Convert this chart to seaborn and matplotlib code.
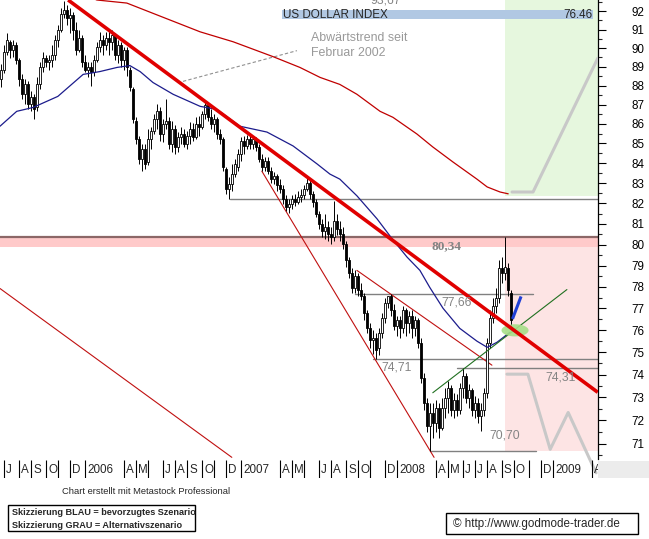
import pandas as pd
import numpy as np
import matplotlib
matplotlib.use("Agg")
import matplotlib.pyplot as plt
import seaborn as sns
from matplotlib import font_manager
from matplotlib.path import Path
from matplotlib.patches import Rectangle
from matplotlib.ticker import FixedLocator, NullFormatter, FuncFormatter

# --- weekly candles, US Dollar Index (first bar week of 2005-06-24) ---
first_week = "2005-06-24"
opens = [88.32, 88.85, 89.80, 90.34, 89.91, 90.18, 89.38, 88.32, 87.54, 88.06,
         87.01, 87.38, 86.85, 88.06, 88.96, 89.49, 89.27, 89.38, 89.65, 90.45,
         90.99, 91.86, 92.08, 91.64, 91.81, 90.99, 89.91, 90.56, 89.27, 88.85,
         88.96, 88.74, 89.38, 90.07, 90.45, 90.18, 90.56, 90.34, 90.72, 89.65,
         90.18, 89.38, 89.91, 88.85, 87.80, 86.14, 85.22, 84.21, 84.71, 84.06,
         85.22, 85.63, 86.24, 86.65, 85.48, 85.99, 86.14, 84.97, 85.73, 84.82,
         85.32, 85.48, 84.97, 85.37, 85.73, 85.32, 85.99, 85.83, 86.50, 86.96,
         86.34, 85.99, 86.24, 85.48, 85.22, 83.70, 82.71, 82.96, 83.45, 83.80,
         84.46, 85.12, 84.87, 85.22, 84.97, 85.22, 84.82, 84.21, 83.80, 84.11,
         83.60, 83.20, 83.35, 82.91, 82.71, 82.22, 81.83, 81.98, 82.22, 82.07,
         82.32, 82.42, 82.71, 83.00, 82.47, 82.07, 81.49, 81.00, 80.66, 80.86,
         80.52, 80.38, 81.14, 80.76, 80.52, 80.04, 79.24, 78.63, 77.92, 78.49,
         77.83, 77.55, 76.77, 76.08, 75.54, 75.63, 75.18, 75.86, 76.54, 77.23,
         77.55, 76.91, 76.17, 76.45, 76.08, 76.91, 76.31, 76.63, 76.08, 76.45,
         75.41, 73.85, 72.76, 71.77, 72.33, 71.90, 72.54, 71.69, 72.54, 72.98,
         73.41, 72.45, 72.89, 72.45, 73.41, 73.94, 72.98, 73.32, 72.45, 72.76,
         72.20, 72.45, 73.20, 75.41, 76.54, 77.09, 77.46, 78.86, 78.63, 78.86,
         77.69]
highs = [89.12, 90.18, 90.83, 90.45, 90.45, 90.34, 89.49, 88.59, 88.32, 88.22,
         87.69, 87.54, 88.43, 89.27, 89.80, 89.65, 89.65, 90.18, 90.72, 91.26,
         92.19, 92.58, 92.36, 92.19, 91.97, 91.42, 90.99, 90.72, 89.65, 89.27,
         89.27, 89.65, 90.34, 90.88, 90.72, 90.88, 90.99, 90.99, 90.83, 90.45,
         90.34, 90.07, 90.07, 88.96, 87.90, 86.34, 85.37, 84.97, 84.97, 85.73,
         85.83, 86.50, 87.01, 86.85, 86.24, 87.27, 86.34, 86.14, 85.93, 85.58,
         85.83, 85.73, 85.63, 86.09, 86.04, 86.34, 86.39, 86.65, 87.17, 87.06,
         86.75, 86.50, 86.34, 85.73, 85.32, 83.80, 83.30, 83.96, 84.21, 84.71,
         85.32, 85.37, 85.42, 85.48, 85.37, 85.32, 84.97, 84.46, 84.31, 84.31,
         83.80, 83.55, 83.45, 83.20, 82.91, 82.42, 82.22, 82.42, 82.47, 82.61,
         82.71, 82.91, 83.35, 83.20, 82.61, 82.22, 81.63, 81.24, 81.49, 81.14,
         80.86, 82.12, 81.49, 81.14, 80.86, 80.18, 79.42, 78.86, 78.77, 78.67,
         78.16, 77.69, 76.91, 76.31, 75.99, 75.86, 76.08, 76.77, 77.46, 77.58,
         77.66, 77.18, 76.63, 76.63, 77.09, 77.00, 76.86, 76.91, 76.63, 76.54,
         75.63, 74.07, 72.98, 72.76, 72.76, 72.89, 72.76, 72.98, 73.41, 73.72,
         73.54, 73.20, 73.15, 73.63, 74.31, 74.07, 73.59, 73.41, 73.07, 72.98,
         72.76, 73.41, 75.63, 76.91, 77.46, 77.92, 79.24, 79.42, 80.34, 79.10,
         77.83]
lows = [87.90, 88.69, 89.65, 89.49, 89.54, 89.12, 87.96, 87.27, 87.01, 86.75,
        86.65, 86.24, 86.65, 87.80, 88.74, 88.96, 88.85, 88.96, 89.38, 90.07,
        90.88, 91.64, 91.26, 90.83, 90.45, 89.65, 89.80, 89.01, 88.74, 88.43,
        87.96, 88.48, 89.27, 89.80, 89.65, 89.91, 89.65, 89.91, 89.38, 89.22,
        89.01, 88.85, 88.48, 87.70, 86.04, 84.97, 83.96, 83.60, 83.70, 83.90,
        84.71, 85.48, 85.73, 85.12, 85.07, 85.73, 84.71, 84.56, 84.46, 84.56,
        84.97, 84.82, 84.71, 84.97, 85.12, 85.22, 85.37, 85.73, 86.24, 86.14,
        85.73, 85.58, 85.22, 84.97, 83.60, 82.47, 82.22, 82.61, 83.30, 83.60,
        84.11, 84.46, 84.71, 84.71, 84.71, 84.61, 84.06, 83.60, 83.60, 83.45,
        83.00, 82.96, 82.61, 82.51, 81.98, 81.63, 81.53, 81.73, 81.88, 81.98,
        82.07, 82.22, 82.61, 82.22, 81.83, 81.34, 80.76, 80.38, 80.28, 80.18,
        80.04, 80.18, 80.47, 80.18, 79.80, 78.95, 78.39, 77.69, 77.69, 77.55,
        77.37, 76.45, 75.86, 75.18, 74.91, 74.71, 74.87, 75.63, 76.31, 77.00,
        76.63, 75.99, 75.72, 75.63, 75.86, 75.72, 75.86, 75.63, 75.72, 75.18,
        73.63, 72.45, 71.48, 70.70, 71.26, 71.48, 71.26, 71.60, 72.11, 72.33,
        72.20, 72.11, 72.20, 72.28, 72.98, 72.76, 72.54, 72.20, 72.11, 71.90,
        71.56, 72.20, 72.98, 75.18, 76.31, 76.77, 77.23, 78.16, 78.30, 77.55,
        76.08]
closes = [88.85, 89.80, 90.45, 89.91, 90.18, 89.38, 88.32, 87.54, 88.06, 87.01,
          87.38, 86.75, 88.06, 88.96, 89.49, 89.27, 89.38, 89.65, 90.45, 90.99,
          91.86, 92.08, 91.64, 91.81, 90.99, 89.91, 90.56, 89.27, 88.85, 88.96,
          88.74, 89.38, 90.07, 90.45, 90.18, 90.56, 90.34, 90.72, 89.65, 90.18,
          89.38, 89.91, 88.96, 87.90, 86.24, 85.22, 84.21, 84.71, 83.96, 85.22,
          85.63, 86.24, 86.65, 85.48, 85.99, 86.14, 84.97, 85.73, 84.82, 85.32,
          85.48, 84.97, 85.37, 85.73, 85.32, 85.99, 85.83, 86.50, 86.96, 86.34,
          85.99, 86.24, 85.48, 85.22, 83.80, 82.71, 82.96, 83.45, 83.96, 84.46,
          85.12, 84.87, 85.22, 84.97, 85.22, 84.82, 84.21, 83.80, 84.11, 83.60,
          83.20, 83.35, 82.91, 82.71, 82.22, 81.83, 81.98, 82.22, 82.07, 82.32,
          82.42, 82.71, 83.00, 82.47, 82.07, 81.49, 81.00, 80.66, 80.86, 80.52,
          80.38, 81.14, 80.76, 80.52, 80.04, 79.24, 78.63, 77.92, 78.49, 77.83,
          77.55, 76.77, 76.08, 75.54, 75.63, 75.09, 75.86, 76.54, 77.23, 77.55,
          76.91, 76.17, 76.45, 76.08, 76.91, 76.31, 76.63, 76.08, 76.45, 75.41,
          73.85, 72.76, 71.77, 72.33, 71.90, 72.54, 71.69, 72.54, 72.98, 73.41,
          72.45, 72.89, 72.45, 73.41, 73.94, 72.98, 73.32, 72.45, 72.76, 72.20,
          72.45, 73.20, 75.41, 76.54, 77.09, 77.46, 78.86, 78.63, 78.95, 77.83,
          76.46]

# --- moving averages ---
blue_ma_dates = ["2005-06-22", "2005-07-31", "2005-09-07", "2005-11-04", "2006-01-02",
                 "2006-02-10", "2006-03-22", "2006-04-21", "2006-05-15", "2006-06-14",
                 "2006-07-31", "2006-10-02", "2006-11-10", "2007-01-03", "2007-03-07",
                 "2007-05-07", "2007-07-02", "2007-08-01", "2007-08-24", "2007-10-03",
                 "2007-11-19", "2007-12-24", "2008-01-28", "2008-02-27", "2008-03-21",
                 "2008-04-21", "2008-05-30", "2008-07-09", "2008-08-02", "2008-08-25",
                 "2008-09-24"]
blue_ma = [85.88, 86.65, 86.85, 87.43, 88.59, 88.74, 88.96, 89.06, 88.74, 88.16,
           87.54, 86.91, 86.75, 85.88, 85.58, 84.87, 83.96, 83.45, 83.20, 82.37,
           81.24, 80.28, 79.40, 78.77, 77.97, 77.00, 76.08, 75.50, 75.22, 75.45,
           75.90]
red_ma_dates = ["2006-01-18", "2006-02-03", "2006-04-14", "2006-06-23", "2006-10-02",
                "2006-12-18", "2007-03-21", "2007-05-23", "2007-07-09", "2007-08-24",
                "2007-10-03", "2007-11-26", "2007-12-26", "2008-02-20", "2008-03-28",
                "2008-05-14", "2008-07-09", "2008-08-02", "2008-09-01", "2008-09-20"]
red_ma = [92.80, 92.63, 92.46, 91.81, 90.88, 90.34, 89.54, 88.96, 88.43, 88.06,
          87.54, 86.65, 86.34, 85.48, 84.82, 84.06, 83.20, 82.81, 82.56, 82.47]

# --- trend lines ---
trend_dates = ["2005-11-28", "2009-04-17"]
trend_prices = [92.63, 73.22]
chan_low_dates = ["2005-06-22", "2006-12-15"]
chan_low = [77.92, 70.42]
chan_steep_dates = ["2007-02-23", "2008-03-31"]
chan_steep = [83.60, 70.42]
chan_mid_dates = ["2007-10-03", "2008-08-13"]
chan_mid = [78.77, 74.42]
support_dates = ["2008-03-28", "2009-02-04"]
support = [73.20, 77.87]

# --- horizontal marks ---
levels = [82.22, 77.66, 74.71, 74.31, 70.70]
level_from = ["2006-12-11", "2007-09-28", "2007-11-09", "2008-05-23", "2008-03-21"]
level_to = ["2009-04-18", "2008-11-17", "2009-04-18", "2009-04-18", "2008-11-24"]
key_level = 80.34

# --- scenario sketches ---
blue_path_dates = ["2008-09-30", "2008-10-20"]
blue_path = [76.51, 77.55]
grey_up_dates = ["2008-09-29", "2008-11-17", "2009-04-17"]
grey_up = [82.56, 82.56, 89.45]
grey_dn_dates = ["2008-09-17", "2008-11-05", "2008-12-27", "2009-02-07", "2009-04-13"]
grey_dn = [74.02, 74.02, 70.76, 72.34, 69.77]
zone_date, zone_price = "2008-10-06", 75.99
note_dates = ["2006-08-23", "2007-05-16"]
note_prices = [88.22, 89.86]

month_labels = [("2005-07", "J"), ("2005-08", "A"), ("2005-09", "S"), ("2005-10", "O"),
                ("2005-11", ""), ("2005-12", "D"), ("2006-01", "2006"), ("2006-04", "A"),
                ("2006-05", "M"), ("2006-06", ""), ("2006-07", "J"), ("2006-08", "A"),
                ("2006-09", "S"), ("2006-10", "O"), ("2006-11", ""), ("2006-12", "D"),
                ("2007-01", "2007"), ("2007-04", "A"), ("2007-05", "M"), ("2007-06", ""),
                ("2007-07", "J"), ("2007-08", "A"), ("2007-09", "S"), ("2007-10", "O"),
                ("2007-11", ""), ("2007-12", "D"), ("2008-01", "2008"), ("2008-04", "A"),
                ("2008-05", "M"), ("2008-06", "J"), ("2008-07", "J"), ("2008-08", "A"),
                ("2008-09", "S"), ("2008-10", "O"), ("2008-11", ""), ("2008-12", "D"),
                ("2009-01", "2009"), ("2009-04", "A")]
y_ticks = list(range(71, 93))


def main():
    sns.set_style("white")
    plt.rcParams["font.family"] = ["Liberation Sans", "DejaVu Sans"]
    names = {f.name for f in font_manager.fontManager.ttflist}
    has_narrow = "Liberation Sans Narrow" in names
    narrow = ["Liberation Sans Narrow", "Liberation Sans"] if has_narrow else ["Liberation Sans"]
    sc = 1.0 if has_narrow else 0.84

    T = pd.to_datetime
    x0, x1 = T("2005-06-22"), T("2009-04-17 14:00")
    y0, y1 = 70.35, 92.63

    fig = plt.figure(figsize=(6.49, 5.39), dpi=100)
    ax = fig.add_axes([0, 80 / 539, 598 / 649, 459 / 539])
    axb = fig.add_axes([0, 61 / 539, 598 / 649, 18 / 539], sharex=ax)
    ax.set_yscale("log")

    # shaded zones
    start = T("2008-09-12")
    ax.fill_between([start, x1], 82.37, 94, color="#e6f7de", lw=0, zorder=0.5)
    ax.fill_between([start, x1], 70.70, 79.90, color="#fde4e4", lw=0, zorder=0.5)
    ax.axhspan(79.90, 80.30, color="#ffcaca", lw=0, zorder=1)
    ax.axhline(key_level, color="#8c6767", lw=1.6, zorder=2)

    for lv, a, b in zip(levels, level_from, level_to):
        ax.plot([T(a), T(b)], [lv, lv], color="#808080", lw=1.0, zorder=2)

    # thin channel lines
    for d, p in [(chan_low_dates, chan_low), (chan_steep_dates, chan_steep),
                 (chan_mid_dates, chan_mid)]:
        ax.plot(T(d), p, color="#c01010", lw=0.8, zorder=2.5)

    # candles
    df = pd.DataFrame({"date": pd.date_range(first_week, periods=len(closes), freq="7D"),
                       "open": opens, "high": highs, "low": lows, "close": closes})
    up = df["close"] >= df["open"]
    ax.vlines(df["date"], df["low"], df["high"], color="black", lw=0.7, zorder=3)
    ax.bar(df["date"][up], (df["close"] - df["open"])[up], bottom=df["open"][up],
           width=5, color="white", edgecolor="black", lw=0.6, zorder=3.5)
    ax.bar(df["date"][~up], (df["open"] - df["close"])[~up], bottom=df["close"][~up],
           width=5, color="black", edgecolor="black", lw=0.6, zorder=3.5)

    # moving averages
    sns.lineplot(x=T(blue_ma_dates), y=blue_ma, ax=ax, color="#1c1c8c", lw=0.9,
                 sort=False, zorder=5)
    sns.lineplot(x=T(red_ma_dates), y=red_ma, ax=ax, color="#c00000", lw=0.9,
                 sort=False, zorder=5)

    # support line + zone
    ax.plot(T(support_dates), support, color="#207020", lw=0.8, zorder=5)
    t = np.linspace(0, 2 * np.pi, 60)
    ell = Path(np.column_stack([np.cos(t), 0.45 * np.sin(t)]))
    ax.scatter([T(zone_date)], [zone_price], marker=ell, s=380, color="#a6df88",
               edgecolors="none", alpha=0.9, zorder=5.5)

    # main downtrend
    ax.plot(T(trend_dates), trend_prices, color="#e00000", lw=2.6, zorder=6,
            solid_capstyle="butt")

    # scenario sketches
    ax.plot(T(grey_up_dates), grey_up, color="#c8c8c8", lw=2.2, zorder=4)
    ax.plot(T(grey_dn_dates), grey_dn, color="#c8c8c8", lw=2.2, zorder=4, clip_on=False)
    ax.plot(T(blue_path_dates), blue_path, color="#1f3fd6", lw=2.2, zorder=7,
            solid_capstyle="butt")

    # note
    ax.plot(T(note_dates), note_prices, color="#909090", lw=0.8, dashes=(3, 2), zorder=4)
    ax.text(T("2007-06-17"), 90.55, "Abwärtstrend seit", color="#999999", fontsize=8.9,
            va="center", ha="left")
    ax.text(T("2007-06-17"), 89.76, "Februar 2002", color="#999999", fontsize=8.9,
            va="center", ha="left")

    # level labels
    grey = "#848484"
    ax.text(T("2008-04-30"), 79.94, "80,34", color=grey, fontsize=9.6, fontweight="bold",
            family=["Liberation Serif", "DejaVu Serif"], ha="center", va="center", zorder=8)
    for d, p, s in [("2008-05-23", 77.28, "77,66"), ("2008-01-04", 74.33, "74,71"),
                    ("2009-01-21", 73.89, "74,31"), ("2008-09-12", 71.35, "70,70")]:
        ax.text(T(d), p, s, color=grey, fontsize=8.7, ha="center", va="center", zorder=8)
    ax.text(T("2007-12-10"), 92.41, "93,67", color=grey, fontsize=8.7, ha="center",
            va="baseline", clip_on=True)

    # title bar
    ax.add_patch(Rectangle((282 / 598, 1 - 19 / 459), 311 / 598, 9 / 459,
                           transform=ax.transAxes, color="#b1c8e3", lw=0, zorder=8))
    ax.text(283 / 598, 1 - 14.5 / 459, "US DOLLAR INDEX", transform=ax.transAxes,
            fontsize=8.4, va="center", ha="left", zorder=9)
    ax.text(592 / 598, 1 - 14.5 / 459, "76.46", transform=ax.transAxes,
            fontsize=8.4, va="center", ha="right", zorder=9)

    # axes styling
    ax.set_xlim(x0, x1)
    ax.set_ylim(y0, y1)
    ax.set_xlabel("")
    ax.set_ylabel("")
    for s in ["top", "left", "bottom"]:
        ax.spines[s].set_visible(False)
    ax.spines["right"].set_visible(True)
    ax.spines["right"].set_color("black")
    ax.spines["right"].set_linewidth(0.9)
    ax.yaxis.tick_right()
    ax.yaxis.set_major_locator(FixedLocator(y_ticks))
    ax.yaxis.set_major_formatter(FuncFormatter(lambda v, _: f"{v:.0f}"))
    ax.yaxis.set_minor_locator(FixedLocator([v + 0.5 for v in range(70, 93)]))
    ax.yaxis.set_minor_formatter(NullFormatter())
    ax.tick_params(axis="y", which="major", right=True, left=False, direction="out",
                   length=5.8, width=0.8, pad=18, labelsize=10 * sc, colors="black")
    ax.tick_params(axis="y", which="minor", right=True, left=False, direction="out",
                   length=2.9, width=0.8)
    for lab in ax.get_yticklabels():
        lab.set_family(narrow)
    ax.tick_params(axis="x", bottom=False, labelbottom=False)

    # month band
    axb.set_ylim(0, 1)
    axb.axis("off")
    fridays = pd.date_range("2005-06-24", "2009-06-30", freq="W-FRI")
    first_fri = pd.Series(fridays, index=fridays).groupby(fridays.to_period("M")).min()
    for m, lab in month_labels:
        sep = first_fri[pd.Period(m, "M")]
        axb.vlines(sep, 0, 1, color="black", lw=0.8)
        if lab:
            axb.annotate(lab, xy=(sep, 0.45), xytext=(1.6, 0), textcoords="offset points",
                         va="center", ha="left", fontsize=10 * sc, family=narrow)
    fig.add_artist(Rectangle((598 / 649, 61 / 539), 51 / 649, 17 / 539,
                             transform=fig.transFigure, color="#ececec", lw=0))

    # footer
    fig.text(62 / 649, 1 - 491 / 539, "Chart erstellt mit Metastock Professional",
             fontsize=8 * sc, family=narrow, va="center", ha="left")
    fig.add_artist(Rectangle((8 / 649, 1 - 531 / 539), 187 / 649, 26 / 539,
                             transform=fig.transFigure, fill=False, ec="black", lw=1))
    fig.text(12 / 649, 1 - 512.5 / 539, "Skizzierung BLAU = bevorzugtes Szenario",
             fontsize=7.8 * sc, fontweight="bold", family=narrow, va="center", ha="left")
    fig.text(12 / 649, 1 - 525.5 / 539, "Skizzierung GRAU = Alternativszenario",
             fontsize=7.8 * sc, fontweight="bold", family=narrow, va="center", ha="left")
    fig.add_artist(Rectangle((446 / 649, 1 - 534 / 539), 192 / 649, 21 / 539,
                             transform=fig.transFigure, fill=False, ec="black", lw=1))
    fig.text(453 / 649, 1 - 523.5 / 539, "© http://www.godmode-trader.de",
             fontsize=10 * sc, family=narrow, va="center", ha="left")

    fig.savefig("out.png", dpi=100)


if __name__ == "__main__":
    main()
